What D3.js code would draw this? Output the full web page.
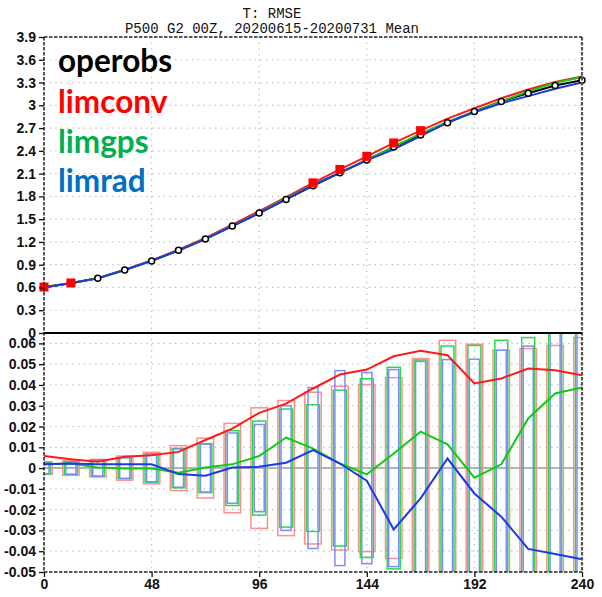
<!DOCTYPE html>
<html>
<head>
<meta charset="utf-8">
<script src="https://cdn.jsdelivr.net/npm/d3@7"></script>
<style>
  html, body { margin: 0; padding: 0; background: #fff; }
  svg { display: block; }
  .tick-label { font-family: "Liberation Sans", Arial, sans-serif; font-weight: bold; font-size: 14px; fill: #111; }
  .title { font-family: "Liberation Mono", "Courier New", monospace; font-size: 14px; fill: #111; }
  .legend { font-family: Lato, "Open Sans", sans-serif; font-weight: bold; }
</style>
</head>
<body>
<svg id="chart" width="602" height="597"></svg>
<script>
// Forecast lead times (hours)
const leadHours = [0, 12, 24, 36, 48, 60, 72, 84, 96, 108, 120, 132, 144, 156, 168, 180, 192, 204, 216, 228, 240];

// Experiment names and colours
const seriesNames = ["operobs", "limconv", "limgps", "limrad"];
const legendColors = ["#000000", "#ff0000", "#00b050", "#0070c0"];
const lineColors = ["#000000", "#ff1a1a", "#10cc10", "#1a3ae8"];
const boxColors = [null, "#ff8f8f", "#22dd44", "#7d8cff"];

// Temperature RMSE at 500 hPa, mean over 20200615-20200731
const rmseOperobs = [0.600, 0.655, 0.720, 0.830, 0.950, 1.090, 1.240, 1.410, 1.580, 1.760, 1.940, 2.110, 2.280, 2.450, 2.610, 2.770, 2.920, 3.050, 3.160, 3.260, 3.330];
const rmseLimconv = [0.606, 0.659, 0.723, 0.835, 0.956, 1.098, 1.254, 1.429, 1.607, 1.791, 1.978, 2.155, 2.327, 2.504, 2.666, 2.824, 2.961, 3.093, 3.208, 3.307, 3.380];
const rmseLimgps  = [0.602, 0.657, 0.720, 0.830, 0.950, 1.088, 1.240, 1.412, 1.586, 1.775, 1.950, 2.112, 2.277, 2.457, 2.628, 2.781, 2.915, 3.052, 3.184, 3.296, 3.369];
const rmseLimrad  = [0.602, 0.657, 0.722, 0.832, 0.952, 1.087, 1.236, 1.410, 1.581, 1.763, 1.949, 2.112, 2.274, 2.420, 2.595, 2.775, 2.908, 3.027, 3.121, 3.219, 3.300];

// Differences from operobs
const diffLimconv = [0.0058, 0.0043, 0.0030, 0.0054, 0.0062, 0.0078, 0.0135, 0.0190, 0.0266, 0.0310, 0.0383, 0.0450, 0.0474, 0.0538, 0.0564, 0.0543, 0.0407, 0.0431, 0.0479, 0.0471, 0.0447];
const diffLimgps  = [0.0019, 0.0022, 0.0003, -0.0002, -0.0002, -0.0022, 0.0003, 0.0018, 0.0058, 0.0147, 0.0094, 0.0022, -0.0030, 0.0070, 0.0175, 0.0114, -0.0046, 0.0018, 0.0239, 0.0359, 0.0388];
const diffLimrad  = [0.0018, 0.0022, 0.0019, 0.0018, 0.0018, -0.0029, -0.0037, 0.0003, 0.0006, 0.0026, 0.0087, 0.0022, -0.0061, -0.0295, -0.0146, 0.0046, -0.0122, -0.0234, -0.0389, -0.0413, -0.0439];

// Significance thresholds (half height of each box)
const sigLimconv = [0.0030, 0.0035, 0.0042, 0.0058, 0.0076, 0.0108, 0.0144, 0.0215, 0.0290, 0.0325, 0.0365, 0.0394, 0.0402, 0.0435, 0.0527, 0.0615, 0.0596, 0.0567, 0.0575, 0.0590, 0.0628];
const sigLimgps  = [0.0028, 0.0030, 0.0038, 0.0050, 0.0068, 0.0095, 0.0118, 0.0180, 0.0226, 0.0284, 0.0305, 0.0375, 0.0430, 0.0485, 0.0520, 0.0587, 0.0590, 0.0615, 0.0628, 0.0680, 0.0700];
const sigLimrad  = [0.0027, 0.0030, 0.0040, 0.0050, 0.0066, 0.0092, 0.0115, 0.0169, 0.0210, 0.0300, 0.0387, 0.0469, 0.0460, 0.0474, 0.0513, 0.0522, 0.0524, 0.0567, 0.0587, 0.0700, 0.0720];

// Axis ticks
const xTicks = [0, 48, 96, 144, 192, 240];
const topTicks = [0, 0.3, 0.6, 0.9, 1.2, 1.5, 1.8, 2.1, 2.4, 2.7, 3, 3.3, 3.6, 3.9];
const bottomTicks = [-0.05, -0.04, -0.03, -0.02, -0.01, 0, 0.01, 0.02, 0.03, 0.04, 0.05, 0.06];

const titleLines = ["T: RMSE", "P500 G2 00Z, 20200615-20200731 Mean"];

const svg = d3.select("#chart");
const plotL = 44, plotR = 582, plotT = 37, plotM = 333, plotB = 572;

const x = d3.scaleLinear().domain([0, 240]).range([plotL, plotR]);
const yTop = d3.scaleLinear().domain([0, 3.9]).range([plotM, plotT]);
const yBot = d3.scaleLinear().domain([-0.05, 0.065]).range([plotB, plotM]);

const rmse = [rmseOperobs, rmseLimconv, rmseLimgps, rmseLimrad];
const diffs = [null, diffLimconv, diffLimgps, diffLimrad];
const sigs = [null, sigLimconv, sigLimgps, sigLimrad];

// Clip regions
const defs = svg.append("defs");
defs.append("clipPath").attr("id", "clipTop").append("rect")
  .attr("x", plotL).attr("y", plotT).attr("width", plotR - plotL).attr("height", plotM - plotT);
defs.append("clipPath").attr("id", "clipBot").append("rect")
  .attr("x", plotL).attr("y", plotM).attr("width", plotR - plotL).attr("height", plotB - plotM);

// Title
svg.selectAll("text.title").data(titleLines).join("text")
  .attr("class", "title")
  .attr("x", 272).attr("y", (d, i) => 18 + i * 15)
  .attr("text-anchor", "middle")
  .text(d => d);

// Grid lines
const gridStyle = sel => sel.attr("stroke", "#b5b5b5").attr("stroke-width", 1.2).attr("stroke-dasharray", "1.2,4.5");
const grid = svg.append("g");
grid.selectAll("line.hgt").data(topTicks.filter(v => v > 0 && v < 3.9)).join("line")
  .attr("x1", plotL).attr("x2", plotR).attr("y1", d => yTop(d)).attr("y2", d => yTop(d)).call(gridStyle);
grid.append("g").selectAll("line").data(bottomTicks.filter(v => v > -0.05 && v !== 0)).join("line")
  .attr("x1", plotL).attr("x2", plotR).attr("y1", d => yBot(d)).attr("y2", d => yBot(d)).call(gridStyle);
grid.append("g").selectAll("line").data(xTicks.filter(v => v > 0 && v < 240)).join("line")
  .attr("x1", d => x(d)).attr("x2", d => x(d)).attr("y1", plotT).attr("y2", plotB).call(gridStyle);

// Zero reference in the difference panel
svg.append("line").attr("x1", plotL).attr("x2", plotR).attr("y1", yBot(0)).attr("y2", yBot(0))
  .attr("stroke", "#9a9a9a").attr("stroke-width", 1.5);

// Lower panel: significance boxes
const boxWidths = [0, 16.5, 13, 10];
const bot = svg.append("g").attr("clip-path", "url(#clipBot)");
[1, 2, 3].forEach(s => {
  bot.append("g").selectAll("rect").data(leadHours.map((h, i) => ({ h, c: sigs[s][i] }))).join("rect")
    .attr("x", d => x(d.h) - boxWidths[s] / 2)
    .attr("width", boxWidths[s])
    .attr("y", d => yBot(d.c))
    .attr("height", d => yBot(-d.c) - yBot(d.c))
    .attr("fill", "none")
    .attr("stroke", boxColors[s])
    .attr("stroke-width", 1.5);
});

// Lower panel: difference lines
[1, 2, 3].forEach(s => {
  bot.append("path")
    .datum(leadHours.map((h, i) => [h, diffs[s][i]]))
    .attr("fill", "none")
    .attr("stroke", lineColors[s])
    .attr("stroke-width", 2)
    .attr("d", d3.line().x(d => x(d[0])).y(d => yBot(d[1])));
});

// Upper panel: RMSE lines
const upper = svg.append("g").attr("clip-path", "url(#clipTop)");
[0, 1, 2, 3].forEach(s => {
  upper.append("path")
    .datum(leadHours.map((h, i) => [h, rmse[s][i]]))
    .attr("fill", "none")
    .attr("stroke", lineColors[s])
    .attr("stroke-width", 2)
    .attr("d", d3.line().x(d => x(d[0])).y(d => yTop(d[1])));
});

// Control markers
svg.append("g").selectAll("circle").data(leadHours.map((h, i) => [h, rmseOperobs[i]])).join("circle")
  .attr("cx", d => x(d[0])).attr("cy", d => yTop(d[1])).attr("r", 3)
  .attr("fill", "#fff").attr("stroke", "#000").attr("stroke-width", 1.5);

// Squares where an experiment differs significantly from the control
[1, 2, 3].forEach(s => {
  const pts = leadHours.map((h, i) => ({ h, v: rmse[s][i], d: diffs[s][i], c: sigs[s][i] }))
    .filter(p => Math.abs(p.d) > p.c);
  svg.append("g").selectAll("rect").data(pts).join("rect")
    .attr("x", p => x(p.h) - 4.5).attr("y", p => yTop(p.v) - 4.5)
    .attr("width", 9).attr("height", 9)
    .attr("fill", legendColors[s]);
});

// Frame
const dashed = sel => sel.attr("stroke", "#222").attr("stroke-width", 1.5).attr("stroke-dasharray", "3.5,1.5");
svg.append("line").attr("x1", plotL).attr("x2", plotR).attr("y1", plotT).attr("y2", plotT).call(dashed);
svg.append("line").attr("x1", plotL).attr("x2", plotR).attr("y1", plotB).attr("y2", plotB).call(dashed);
svg.append("line").attr("x1", plotL).attr("x2", plotL).attr("y1", plotT).attr("y2", plotB).call(dashed);
svg.append("line").attr("x1", plotR).attr("x2", plotR).attr("y1", plotT).attr("y2", plotB)
  .attr("stroke", "#555").attr("stroke-width", 2.2).attr("stroke-dasharray", "3.5,1.5");
svg.append("line").attr("x1", plotL).attr("x2", plotR).attr("y1", plotM).attr("y2", plotM)
  .attr("stroke", "#000").attr("stroke-width", 2);

// Axes
const fmtTop = v => String(+v.toFixed(1));
const fmtBot = v => String(+v.toFixed(2));
const axisStyle = g => {
  g.select(".domain").remove();
  g.selectAll(".tick line").attr("stroke", "#111").attr("stroke-width", 1.3);
  g.selectAll(".tick text").attr("class", "tick-label").attr("fill", null);
};
svg.append("g").attr("transform", `translate(${plotL},0)`)
  .call(d3.axisLeft(yTop).tickValues(topTicks).tickFormat(fmtTop).tickSize(5).tickPadding(3))
  .call(axisStyle);
svg.append("g").attr("transform", `translate(${plotL},0)`)
  .call(d3.axisLeft(yBot).tickValues(bottomTicks).tickFormat(fmtBot).tickSize(5).tickPadding(3))
  .call(axisStyle);
svg.append("g").attr("transform", `translate(0,${plotB})`)
  .call(d3.axisBottom(x).tickValues(xTicks).tickFormat(d3.format("d")).tickSize(5).tickPadding(2))
  .call(axisStyle);

// Legend
const legendY = [72, 113, 153, 192];
const leg = svg.append("g").attr("class", "legend");
const legTexts = leg.selectAll("text").data(seriesNames).join("text")
  .attr("x", 58).attr("y", (d, i) => legendY[i])
  .attr("fill", (d, i) => legendColors[i])
  .style("font-size", "31px")
  .text(d => d);
const w0 = legTexts.node().getComputedTextLength();
if (w0 > 0) legTexts.style("font-size", (31 * 114 / w0).toFixed(2) + "px");
</script>
</body>
</html>
